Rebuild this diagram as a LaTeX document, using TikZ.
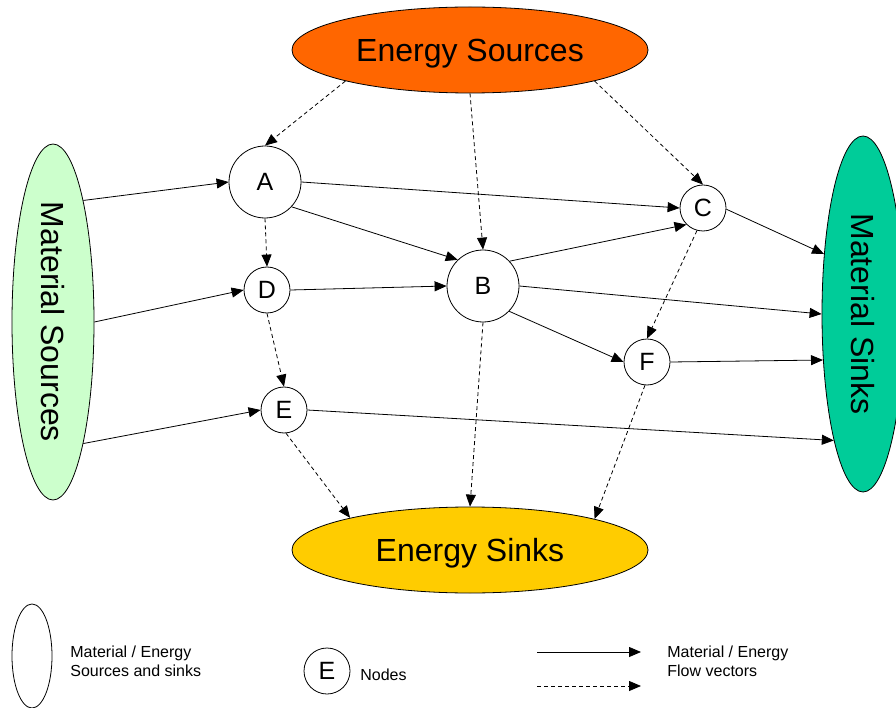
\documentclass[tikz,border=0pt]{standalone}
\usepackage{fontspec}
\setmainfont{Liberation Sans}
\usetikzlibrary{arrows.meta,shapes.geometric}
\definecolor{esrcorange}{HTML}{FF6600}
\definecolor{esinkyellow}{HTML}{FFCC00}
\definecolor{msrcgreen}{HTML}{CCFFCC}
\definecolor{msinkteal}{HTML}{00CC99}

\begin{document}
\begin{tikzpicture}[x=1pt, y=-1pt, line width=0.8pt, >={Triangle[length=12pt, width=10pt]},
    pool/.style={ellipse, draw, inner sep=0pt, font=\fontsize{32}{36}\selectfont},
    bignode/.style={circle, draw, fill=white, inner sep=0pt, minimum size=72pt, font=\fontsize{25}{28}\selectfont},
    smallnode/.style={circle, draw, fill=white, inner sep=0pt, minimum size=46pt, font=\fontsize{25}{28}\selectfont},
    matflow/.style={->},
    enflow/.style={->, dash pattern=on 4pt off 3pt},
    legtext/.style={align=left, anchor=west, inner sep=0pt, font=\fontsize{16}{19}\selectfont}]
  \useasboundingbox (0,0) rectangle (896,708);
  % sources and sinks
  \node[pool, fill=esrcorange, text depth=0pt, minimum width=356pt, minimum height=86pt] (esrc) at (470,50) {Energy Sources};
  \node[pool, fill=esinkyellow, text depth=0pt, minimum width=356pt, minimum height=86pt] (esink) at (470,550) {Energy Sinks};
  \node[pool, fill=msrcgreen, minimum width=82pt, minimum height=356pt] (msrc) at (53,322) {\rotatebox{-90}{Material Sources}};
  \node[pool, fill=msinkteal, minimum width=82pt, minimum height=356pt] (msink) at (863,314) {\rotatebox{-90}{Material Sinks}};
  % nodes
  \node[bignode] (A) at (265,182) {A};
  \node[bignode] (B) at (483,286) {B};
  \node[smallnode] (C) at (703,208) {C};
  \node[smallnode] (D) at (267,290) {D};
  \node[smallnode] (E) at (284,410) {E};
  \node[smallnode] (F) at (647,362) {F};
  % material flows
  \draw[matflow] (msrc.76) -- (A.180);
  \draw[matflow] (msrc.0) -- (D.180);
  \draw[matflow] (msrc.-76) -- (E.180);
  \draw[matflow] (A.0) -- (C.180);
  \draw[matflow] (A.-43) -- (B.134);
  \draw[matflow] (D.0) -- (B.180);
  \draw[matflow] (B.43) -- (C.225);
  \draw[matflow] (B.0) -- (msink.180);
  \draw[matflow] (B.-44) -- (F.180);
  \draw[matflow] (C.-3) -- (msink.123);
  \draw[matflow] (F.0) -- (msink.229);
  \draw[matflow] (E.0) -- (msink.257);
  % energy flows
  \draw[enflow] (esrc.-166) -- (A.90);
  \draw[enflow] (esrc.-90) -- (B.90);
  \draw[enflow] (esrc.-14) -- (C.90);
  \draw[enflow] (A.-90) -- (D.90);
  \draw[enflow] (D.-90) -- (E.90);
  \draw[enflow] (C.-105) -- (F.90);
  \draw[enflow] (E.-85) -- (esink.165);
  \draw[enflow] (B.-90) -- (esink.90);
  \draw[enflow] (F.-95) -- (esink.14);
  % legend
  \node[ellipse, draw, inner sep=0pt, minimum width=40pt, minimum height=104pt] (legpool) at (32,656) {};
  \node[legtext] (legpooltext) at (70,661) {Material / Energy\\Sources and sinks};
  \node[smallnode] (legnode) at (327,671) {E};
  \node[legtext] (legnodetext) at (360,675) {Nodes};
  \coordinate (legmat0) at (537,652);
  \coordinate (legmat1) at (641,652);
  \coordinate (legen0) at (537,686);
  \coordinate (legen1) at (641,686);
  \draw[matflow] (legmat0) -- (legmat1);
  \draw[enflow] (legen0) -- (legen1);
  \node[legtext] (legflowtext) at (667,661) {Material / Energy\\Flow vectors};
\end{tikzpicture}
\end{document}
